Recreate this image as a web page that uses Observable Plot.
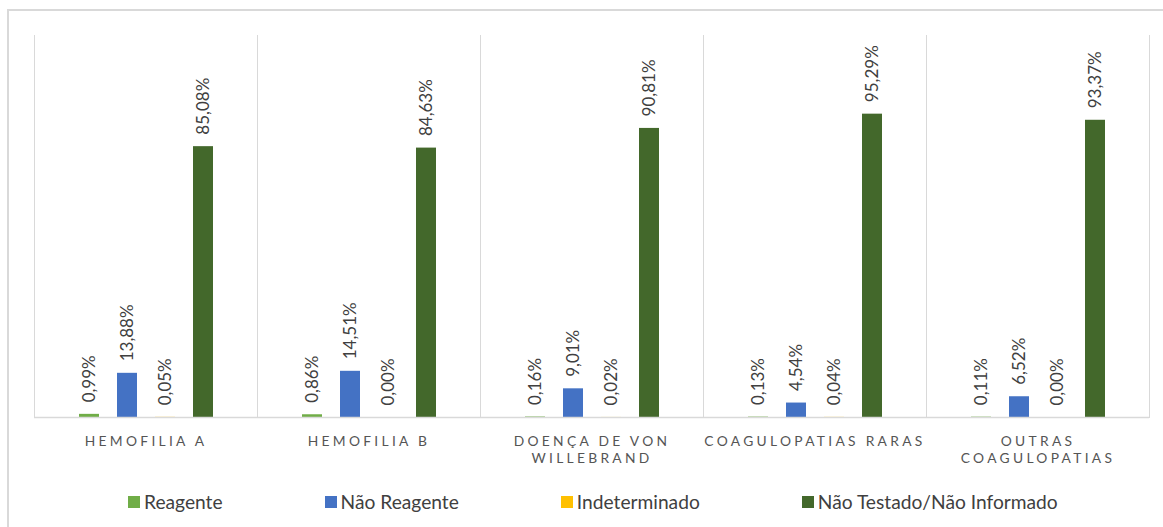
<!DOCTYPE html>
<html>
<head>
<meta charset="utf-8">
<script src="https://cdn.jsdelivr.net/npm/d3@7"></script>
<script src="https://cdn.jsdelivr.net/npm/@observablehq/plot@0.6"></script>
<style>
  html, body { margin: 0; padding: 0; background: #fff; }
  body { width: 1163px; height: 527px; position: relative; overflow: hidden; font-family: Lato, "Open Sans", sans-serif; }
  #border { position: absolute; left: 7px; top: 9px; width: 1300px; height: 700px; border: 2px solid #d9d9d9; box-sizing: border-box; }
  #chart { position: absolute; left: 0; top: 0; }
  #chart svg g[aria-label="fx-axis tick label"] { letter-spacing: 3.3px; }
  #legend { position: absolute; left: 128px; top: 490px; display: flex; align-items: center; gap: 102px; white-space: nowrap; }
  .item { display: flex; align-items: center; font-size: 19.2px; color: #404040; }
  .sw { width: 12px; height: 12px; margin-right: 4px; }
</style>
</head>
<body>
<div id="border"></div>
<div id="chart"></div>
<div id="legend"></div>
<script>
const categories = ["HEMOFILIA A", "HEMOFILIA B", "DOENÇA DE VON WILLEBRAND", "COAGULOPATIAS RARAS", "OUTRAS COAGULOPATIAS"];
const tickLabels = ["HEMOFILIA A", "HEMOFILIA B", "DOENÇA DE VON\nWILLEBRAND", "COAGULOPATIAS RARAS", "OUTRAS\nCOAGULOPATIAS"];
const series = ["Reagente", "Não Reagente", "Indeterminado", "Não Testado/Não Informado"];
const reagente = [0.99, 0.86, 0.16, 0.13, 0.11];
const naoReagente = [13.88, 14.51, 9.01, 4.54, 6.52];
const indeterminado = [0.05, 0.00, 0.02, 0.04, 0.00];
const naoTestado = [85.08, 84.63, 90.81, 95.29, 93.37];
const colors = ["#70ad47", "#4472c4", "#ffc000", "#43682b"];

const seriesValues = [reagente, naoReagente, indeterminado, naoTestado];
const rows = [];
categories.forEach((c, i) => {
  series.forEach((s, j) => rows.push({cat: c, series: s, value: seriesValues[j][i]}));
});
const fmt = v => v.toFixed(2).replace(".", ",") + "%";

const plot = Plot.plot({
  width: 1163,
  height: 470,
  marginLeft: 34,
  marginRight: 14,
  marginTop: 35,
  marginBottom: 53,
  style: {fontFamily: "Lato, 'Open Sans', sans-serif", background: "transparent", overflow: "visible"},
  fx: {domain: categories, padding: 0, label: null, axis: null},
  x: {domain: series, axis: null, paddingInner: 0.478, paddingOuter: 1.1},
  y: {domain: [0, 120], axis: null},
  color: {domain: series, range: colors},
  marks: [
    Plot.frame({anchor: "left", stroke: "#d9d9d9"}),
    Plot.frame({anchor: "right", stroke: "#d9d9d9"}),
    Plot.barY(rows, {fx: "cat", x: "series", y: "value", fill: "series"}),
    Plot.ruleY([0], {stroke: "#d9d9d9", strokeWidth: 1.5}),
    Plot.text(rows, {
      fx: "cat", x: "series", y: "value", text: d => fmt(d.value),
      rotate: -90, textAnchor: "start", lineAnchor: "middle",
      dy: -12, fontSize: 17, fill: "#404040"
    }),
    Plot.axisFx({
      anchor: "bottom", tickSize: 0, tickPadding: 16, label: null,
      tickFormat: d => tickLabels[categories.indexOf(d)],
      fontSize: 13.8, fill: "#555555", lineHeight: 1.24
    })
  ]
});
document.getElementById("chart").appendChild(plot);

const legend = document.getElementById("legend");
series.forEach((s, j) => {
  const item = document.createElement("div");
  item.className = "item";
  const sw = document.createElement("span");
  sw.className = "sw";
  sw.style.background = colors[j];
  const t = document.createElement("span");
  t.textContent = s;
  item.appendChild(sw);
  item.appendChild(t);
  legend.appendChild(item);
});
</script>
</body>
</html>
